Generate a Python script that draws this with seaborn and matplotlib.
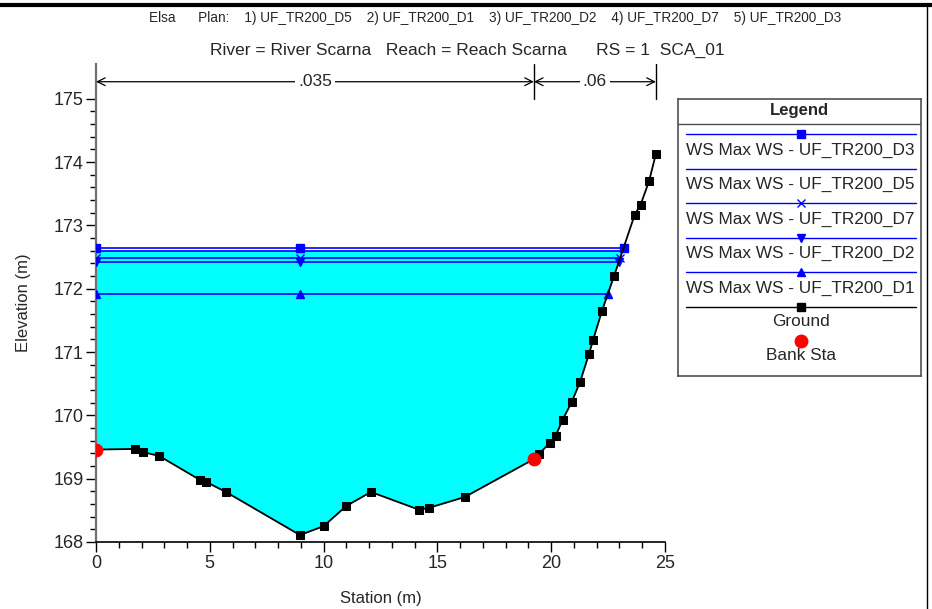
import numpy as np
import pandas as pd
import matplotlib
matplotlib.use("Agg")
import matplotlib.pyplot as plt
from matplotlib.lines import Line2D
import seaborn as sns

# ---------------- data ----------------
station = [0.0, 1.71, 2.07, 2.77, 4.57, 4.83, 5.71, 8.96, 10.0, 11.0, 12.08,
           14.19, 14.63, 16.2, 19.24, 19.46, 19.95, 20.2, 20.5, 20.9, 21.27,
           21.66, 21.84, 22.23, 22.76, 23.67, 23.93, 24.3, 24.6]
elevation = [169.46, 169.47, 169.42, 169.36, 168.98, 168.95, 168.79, 168.11,
             168.25, 168.57, 168.79, 168.51, 168.54, 168.71, 169.31, 169.39,
             169.57, 169.68, 169.93, 170.21, 170.53, 170.97, 171.19, 171.65,
             172.2, 173.17, 173.33, 173.7, 174.13]
bank_station = [0.0, 19.24]
bank_elev = [169.46, 169.31]

ws_names = ["UF_TR200_D3", "UF_TR200_D5", "UF_TR200_D7", "UF_TR200_D2", "UF_TR200_D1"]
ws_levels = [172.65, 172.60, 172.48, 172.43, 171.91]
ws_markers = ["s", None, "x", "v", "^"]

n_breaks = [0.0, 19.24, 24.6]
n_values = [".035", ".06"]

plans = ["UF_TR200_D5", "UF_TR200_D1", "UF_TR200_D2", "UF_TR200_D7", "UF_TR200_D3"]

# ---------------- style ----------------
sns.set_theme(style="white")
plt.rcParams["font.family"] = ["Liberation Sans", "DejaVu Sans"]

W, H = 932, 609
fig = plt.figure(figsize=(W / 100, H / 100), dpi=100)

def fx(px):
    return px / W

def fy(py):
    return 1 - py / H

ax = fig.add_axes([fx(96), fy(542), fx(665) - fx(96), fy(64) - fy(542)])
ax.set_xlim(0, 25)
ax.set_ylim(168, 175.55)

sta = np.array(station)
elv = np.array(elevation)

# water fill up to the first plan (D5)
fill_level = ws_levels[ws_names.index(plans[0])]
xf = np.linspace(sta.min(), sta.max(), 2000)
yf = np.interp(xf, sta, elv)
ax.fill_between(xf, yf, fill_level, where=yf <= fill_level, interpolate=True,
                color="#00FFFF", linewidth=0, zorder=1)

# water surface lines
imin = int(np.argmin(elv))
right = sta >= bank_station[1]
for name, lev, mk in zip(ws_names, ws_levels, ws_markers):
    xr = float(np.interp(lev, elv[right], sta[right]))
    d = pd.DataFrame({"x": [sta[0], sta[imin], xr], "y": [lev, lev, lev]})
    sns.lineplot(data=d, x="x", y="y", ax=ax, color="#0000FF", lw=1.2,
                 marker=mk, markersize=5.5, markeredgecolor="#0000FF",
                 markeredgewidth=1.0, sort=False, estimator=None, zorder=3)

# ground
gdf = pd.DataFrame({"Station": sta, "Elevation": elv})
sns.lineplot(data=gdf, x="Station", y="Elevation", ax=ax, color="black", lw=1.3,
             marker="s", markersize=5.5, markeredgecolor="black",
             sort=False, estimator=None, zorder=4)
bdf = pd.DataFrame({"Station": bank_station, "Elevation": bank_elev})
sns.scatterplot(data=bdf, x="Station", y="Elevation", ax=ax, color="#FF0000",
                s=85, edgecolor="#FF0000", zorder=5)

# Manning's n dimension lines
ydim = 175.27
for xb in n_breaks[1:]:
    ax.plot([xb, xb], [175.0, 175.55], color="black", lw=1.0, zorder=3)
for i, lab in enumerate(n_values):
    x0, x1 = n_breaks[i], n_breaks[i + 1]
    ax.annotate("", xy=(x0, ydim), xytext=(x1, ydim),
                arrowprops=dict(arrowstyle="<->", color="black", lw=0.9,
                                shrinkA=0, shrinkB=0, mutation_scale=14))
    ax.text((x0 + x1) / 2, ydim, lab, ha="center", va="center", fontsize=12.5,
            bbox=dict(facecolor="white", edgecolor="none", pad=2), zorder=4)

# axes styling
ax.spines["top"].set_visible(False)
ax.spines["right"].set_visible(False)
ax.spines["left"].set_color("#707070")
ax.spines["left"].set_linewidth(1.6)
ax.spines["bottom"].set_color("black")
ax.spines["bottom"].set_linewidth(1.2)
ax.set_xticks(range(0, 26, 5))
ax.set_xticks(range(0, 26, 1), minor=True)
ax.set_yticks(range(168, 176))
ax.set_yticks(np.arange(168, 175.01, 0.2), minor=True)
ax.tick_params(axis="both", which="major", direction="out", length=7, width=1,
               color="black", labelsize=13, pad=2, bottom=True, left=True)
ax.tick_params(axis="both", which="minor", direction="out", length=4.5, width=1,
               color="black", bottom=True, left=True)
ax.set_xlabel("Station (m)", fontsize=12, labelpad=14)
ax.set_ylabel("Elevation (m)", fontsize=12, labelpad=16)
ax.grid(False)

# headers
header = "Elsa      Plan:    " + "    ".join(f"{i+1}) {p}" for i, p in enumerate(plans))
fig.text(fx(495), fy(18), header, ha="center", va="center", fontsize=9.8)
fig.text(fx(467), fy(50), "River = River Scarna   Reach = Reach Scarna      RS = 1  SCA_01",
         ha="center", va="center", fontsize=12.5)

# frame lines
fig.add_artist(Line2D([0, 1], [fy(5), fy(5)], color="black", lw=3, transform=fig.transFigure))
fig.add_artist(Line2D([fx(927), fx(927)], [0, fy(5)], color="black", lw=1, transform=fig.transFigure))

# legend box
lx0, lx1, ly0, ly1 = 678, 921, 99, 376
lax = fig.add_axes([fx(lx0), fy(ly1), fx(lx1) - fx(lx0), fy(ly0) - fy(ly1)])
lax.set_xlim(lx0, lx1)
lax.set_ylim(ly1, ly0)
lax.set_xticks([])
lax.set_yticks([])
for s in lax.spines.values():
    s.set_color("#505050")
    s.set_linewidth(1.2)
lax.set_facecolor("white")
lax.text((lx0 + lx1) / 2, 111, "Legend", ha="center", va="center", fontsize=12, fontweight="bold")
lax.plot([lx0, lx1], [124, 124], color="#505050", lw=1.0)
xm = 801
for k, (name, mk) in enumerate(zip(ws_names, ws_markers)):
    yl = 134 + k * 34.5
    lax.plot([686, 916], [yl, yl], color="#0000FF", lw=1.0)
    if mk:
        lax.plot([xm], [yl], marker=mk, color="#0000FF", markersize=5.5)
    lax.text(686, yl + 16, f"WS Max WS - {name}", ha="left", va="center", fontsize=12.4)
lax.plot([686, 916], [307, 307], color="black", lw=1.0)
lax.plot([xm], [307], marker="s", color="black", markersize=5.5)
lax.text(xm, 322, "Ground", ha="center", va="center", fontsize=12.4)
lax.plot([xm], [341], marker="o", color="#FF0000", markersize=9)
lax.text(xm, 356, "Bank Sta", ha="center", va="center", fontsize=12.4)

fig.savefig("out.png", dpi=100)
